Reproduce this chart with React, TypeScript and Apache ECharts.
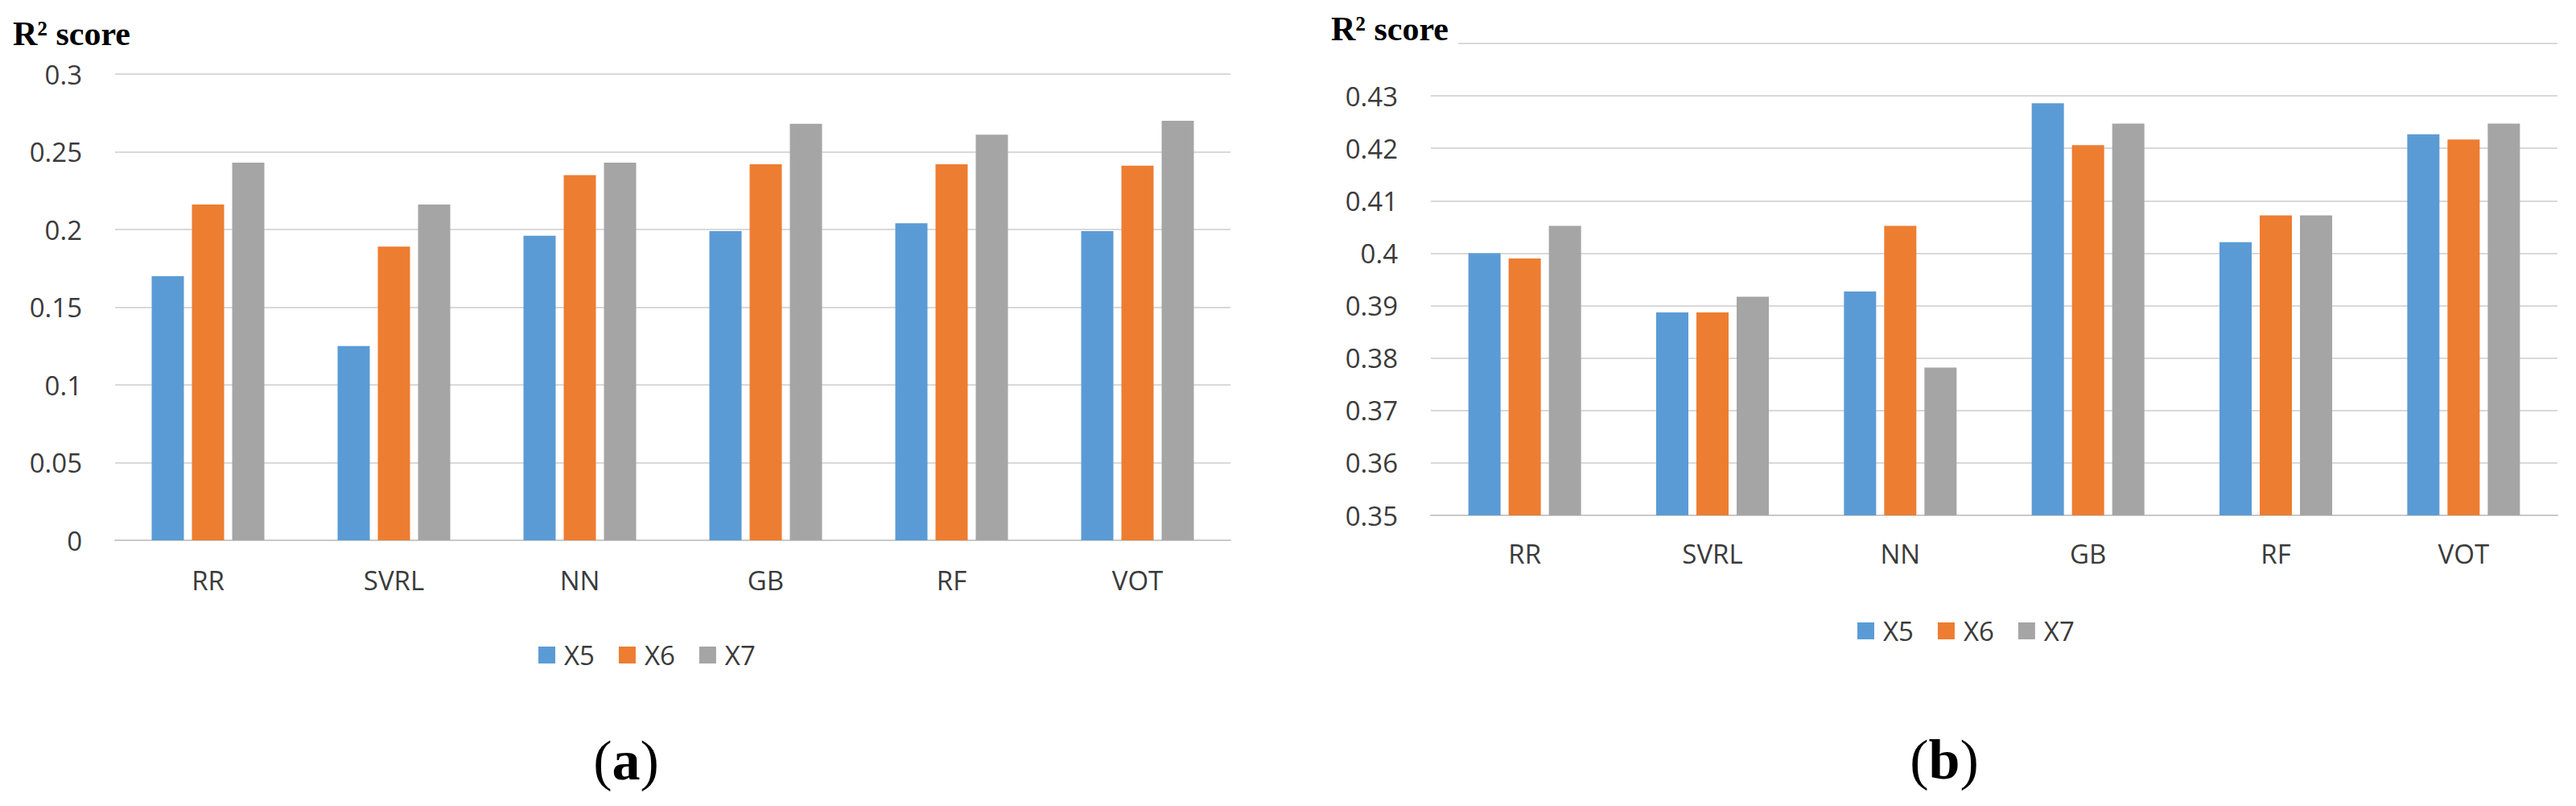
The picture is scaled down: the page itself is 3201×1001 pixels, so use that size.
import React, { useEffect, useRef } from "react";
import * as echarts from "echarts";

const categories = ["RR", "SVRL", "NN", "GB", "RF", "VOT"];
const seriesNames = ["X5", "X6", "X7"];
const colors = ["#5B9BD5", "#ED7D31", "#A5A5A5"];

const aX5 = [0.170, 0.125, 0.196, 0.199, 0.204, 0.199];
const aX6 = [0.216, 0.189, 0.235, 0.242, 0.242, 0.241];
const aX7 = [0.243, 0.216, 0.243, 0.268, 0.261, 0.270];

const bX5 = [0.4, 0.3887, 0.3927, 0.4286, 0.4021, 0.4227];
const bX6 = [0.399, 0.3887, 0.4052, 0.4206, 0.4072, 0.4217];
const bX7 = [0.4052, 0.3917, 0.3782, 0.4247, 0.4072, 0.4247];

const FONT = "'Open Sans', 'Noto Sans', sans-serif";
const SERIF = "'Liberation Serif', 'DejaVu Serif', serif";
const TEXT = "#3b3b3b";
const GRIDC = "#D9D9D9";

export default function App() {
  const ref = useRef<HTMLDivElement>(null);
  useEffect(() => {
    if (!ref.current) return;
    const chart = echarts.init(ref.current, null, { renderer: "svg" });
    const mkX = (gi: number, margin: number) => ({
      type: "category",
      gridIndex: gi,
      data: categories,
      axisTick: { show: false },
      axisLine: { show: true, lineStyle: { color: "#C9C9C9", width: 2 } },
      axisLabel: { color: TEXT, fontSize: 33, fontFamily: FONT, margin },
    });
    const mkY = (gi: number, min: number, max: number, interval: number, hideTop: boolean) => ({
      type: "value",
      gridIndex: gi,
      min,
      max,
      interval,
      axisLine: { show: false },
      axisTick: { show: false },
      splitLine: { lineStyle: { color: GRIDC, width: 2 } },
      axisLabel: {
        color: TEXT,
        fontSize: 33,
        fontFamily: FONT,
        margin: 41,
        formatter: (v: number) => (hideTop && Math.abs(v - max) < 1e-9 ? "" : String(+v.toFixed(4))),
      },
    });
    const mkS = (name: string, data: number[], idx: number, gi: number) => ({
      type: "bar",
      name,
      data,
      xAxisIndex: gi,
      yAxisIndex: gi,
      barWidth: 40,
      barGap: "25%",
      itemStyle: { color: colors[idx] },
    });
    const legend = (left: number, top: number) => ({
      left,
      top,
      data: seriesNames,
      icon: "rect",
      itemWidth: 21,
      itemHeight: 21,
      itemGap: 30,
      padding: 0,
      textStyle: { color: TEXT, fontSize: 33, fontFamily: FONT, padding: [0, 0, 0, 6] },
    });
    chart.setOption({
      animation: false,
      backgroundColor: "#ffffff",
      grid: [
        { left: 143, top: 92, width: 1386, height: 579 },
        { left: 1778, top: 54, width: 1400, height: 586 },
      ],
      xAxis: [mkX(0, 33), mkX(1, 31)],
      yAxis: [mkY(0, 0, 0.3, 0.05, false), mkY(1, 0.35, 0.44, 0.01, true)],
      legend: [legend(669, 797), legend(2308, 767)],
      series: [
        mkS("X5", aX5, 0, 0),
        mkS("X6", aX6, 1, 0),
        mkS("X7", aX7, 2, 0),
        mkS("X5", bX5, 0, 1),
        mkS("X6", bX6, 1, 1),
        mkS("X7", bX7, 2, 1),
      ],
      graphic: [
        {
          type: "text",
          z: 100,
          x: 16,
          y: 42,
          style: {
            text: "R² score",
            font: `bold 42px ${SERIF}`,
            fill: "#000",
            textVerticalAlign: "middle",
          },
        },
        {
          type: "rect",
          z: 99,
          shape: { x: 1640, y: 0, width: 172, height: 66 },
          style: { fill: "#ffffff" },
        },
        {
          type: "text",
          z: 100,
          x: 1654,
          y: 36,
          style: {
            text: "R² score",
            font: `bold 42px ${SERIF}`,
            fill: "#000",
            textVerticalAlign: "middle",
          },
        },
        {
          type: "text",
          z: 100,
          x: 778,
          y: 944,
          style: {
            text: "{p|(}{b|a}{p|)}",
            textAlign: "center",
            textVerticalAlign: "middle",
            rich: {
              p: { font: `70px ${SERIF}`, fill: "#000" },
              b: { font: `bold 70px ${SERIF}`, fill: "#000" },
            },
          },
        },
        {
          type: "text",
          z: 100,
          x: 2416,
          y: 943,
          style: {
            text: "{p|(}{b|b}{p|)}",
            textAlign: "center",
            textVerticalAlign: "middle",
            rich: {
              p: { font: `70px ${SERIF}`, fill: "#000" },
              b: { font: `bold 70px ${SERIF}`, fill: "#000" },
            },
          },
        },
      ],
    });
    return () => chart.dispose();
  }, []);
  return (
    <div
      ref={ref}
      style={{ position: "fixed", left: 0, top: 0, width: 3201, height: 1001, background: "#fff" }}
    />
  );
}
